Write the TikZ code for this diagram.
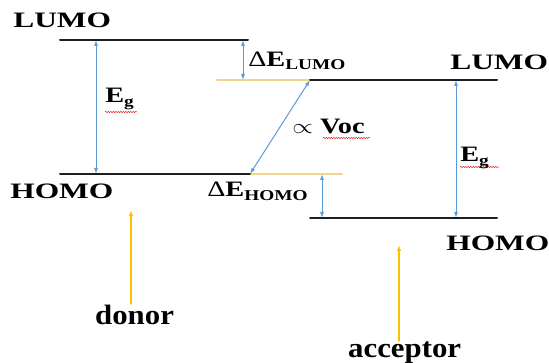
\documentclass[tikz,border=0pt]{standalone}
\usepackage{fontspec}
\setmainfont{Liberation Serif}
\usepackage{tkz-euclide}
\usetikzlibrary{arrows.meta,decorations.pathmorphing}
\definecolor{LevelClr}{RGB}{30,30,30}
\definecolor{OffsetClr}{RGB}{240,214,140}
\definecolor{GapClr}{RGB}{91,155,213}
\definecolor{PointerClr}{RGB}{255,192,0}
\definecolor{SpellClr}{RGB}{225,45,45}
\newcommand{\lvlsub}[2][-4pt]{{\fontsize{15}{16}\selectfont\raisebox{#1}{#2}}}

\begin{document}
\begin{tikzpicture}[x=1pt,y=-1pt,
  level/.style={line width=2pt,color=LevelClr},
  offset/.style={line width=2pt,color=OffsetClr},
  gaparrow/.style={line width=1pt,color=GapClr,{Latex[length=6pt,width=4pt]}-{Latex[length=6pt,width=4pt]}},
  pointer/.style={line width=1.4pt,color=PointerClr,-{Latex[length=6pt,width=4.5pt]}},
  spell/.style={line width=0.5pt,color=SpellClr,decorate,decoration={snake,amplitude=0.7pt,segment length=2.5pt}},
  lvl/.style={font=\bfseries\fontsize{22}{24}\selectfont,xscale=1.43,anchor=base west,inner sep=0pt},
  side/.style={font=\bfseries\fontsize{28}{30}\selectfont,xscale=1.1,anchor=base west,inner sep=0pt}]
\useasboundingbox (0,0) rectangle (549,363);

% energy levels
\tkzDefPoints{60/40/DL1,248/40/DL2,60/174/DH1,250/174/DH2,342/174/DH3}
\tkzDefPoints{217/80/AL0,310/80/AL1,497/80/AL2,310/218/AH1,497/218/AH2}
% gap arrows
\tkzDefPoints{96/40/GD1,96/174/GD2,243/40/LU1,243/80/LU2,322/174/HO1,322/218/HO2,456/80/GA1,456/218/GA2}
% yellow pointers
\tkzDefPoints{131/304/PD1,131/210/PD2,399/341/PA1,399/245/PA2}
% label spots
\tkzDefPoints{13/28/tL,10/199/tH,450/70/tAL,446/251/tAH,105/103/tED,460/162/tEA}
\tkzDefPoints{248/67/tDL,207/197/tDH,292/134/tV,95/325/tD,348/357/tA}
% spell marks
\tkzDefPoints{105/112/sD1,137/112/sD2,460/167/sA1,499/167/sA2,323/138/sV1,370/138/sV2}

\tkzDrawSegments[offset](AL0,AL1 DH2,DH3)
\tkzDrawSegments[level](DL1,DL2 DH1,DH2 AL1,AL2 AH1,AH2)

\tkzDrawSegments[gaparrow](GD1,GD2 LU1,LU2 DH2,AL1 HO1,HO2 GA1,GA2)
\tkzDrawSegments[pointer](PD1,PD2 PA1,PA2)
\tkzDrawSegments[spell](sD1,sD2 sA1,sA2 sV1,sV2)

\tkzLabelPoint[lvl](tL){LUMO}
\tkzLabelPoint[lvl](tH){HOMO}
\tkzLabelPoint[lvl](tAL){LUMO}
\tkzLabelPoint[lvl](tAH){HOMO}
\tkzLabelPoint[lvl,xscale=0.9](tED){E\lvlsub{g}}
\tkzLabelPoint[lvl,xscale=0.9](tEA){E\lvlsub{g}}
\tkzLabelPoint[lvl,xscale=0.9](tDL){{\mdseries Δ}E\lvlsub[-3pt]{LUMO}}
\tkzLabelPoint[lvl,xscale=0.9](tDH){{\mdseries Δ}E\lvlsub{HOMO}}
\tkzLabelPoint[lvl,xscale=0.9](tV){$\propto$ Voc}
\tkzLabelPoint[side](tD){donor}
\tkzLabelPoint[side](tA){acceptor}

\end{tikzpicture}
\end{document}
